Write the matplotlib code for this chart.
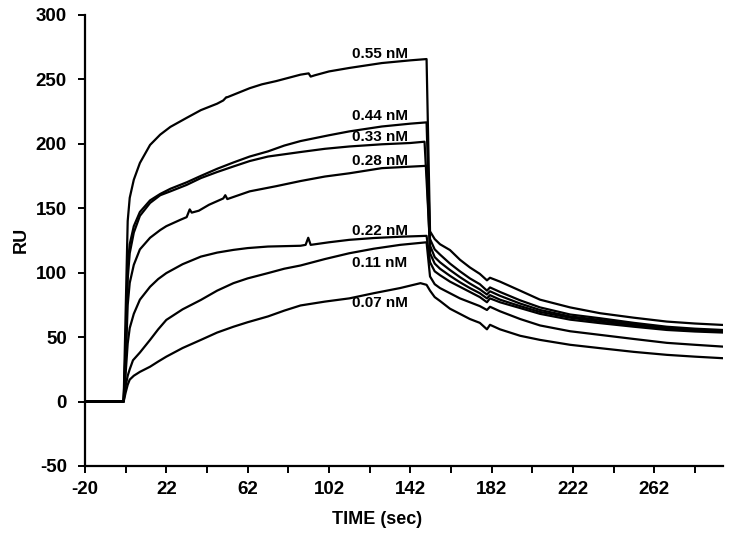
import numpy as np
import matplotlib.pyplot as plt

plt.rcParams['font.family'] = ['Liberation Sans', 'DejaVu Sans']
plt.rcParams['font.weight'] = 'bold'
plt.rcParams['axes.unicode_minus'] = False

# baseline and dissociation phase times (sec, category axis units)
t_base = [-20, -1]
t_dissoc = [149.7, 152, 154.6, 159.5, 164.4, 169.3, 174.2, 177.7, 179.2, 184.1,
            194, 203.8, 218.6, 233.3, 250, 266.2, 280, 293.7]

# association phase, one series per concentration
t_055 = [0, 1, 2, 4, 7, 12, 17, 22, 30, 37, 45, 48, 49.5, 50, 61, 67, 74, 80, 86, 90, 91, 93, 100, 110, 126, 140, 148]
y_055 = [70, 140, 158, 172, 185, 199, 207, 213, 220, 226, 231, 233.5, 236, 236, 243, 246, 248.5, 251, 253.5, 254.5, 252, 253, 256, 258.7, 262.5, 264.6, 265.6]

t_044 = [0, 1, 2, 4, 7, 12, 17, 22, 30, 37, 45, 53, 61, 70, 78, 86, 100, 110, 126, 140, 148]
y_044 = [45, 105, 122, 136, 147, 156, 161, 165, 170, 175, 180.5, 185.4, 190, 194, 198.5, 202, 206.5, 209.5, 213.3, 215.5, 216.5]

t_033 = [0, 1, 2, 4, 7, 12, 17, 22, 30, 37, 45, 53, 61, 70, 86, 98, 110, 126, 140, 147]
y_033 = [40, 95, 115, 131, 144, 154, 160, 163, 168, 173.3, 178, 182.3, 186.5, 190, 193.5, 196, 197.8, 199.5, 200.5, 201.5]

t_028 = [0, 1, 2, 4, 7, 12, 17, 20, 27, 30, 31.5, 32.5, 36, 41, 48, 49, 50, 61, 74, 86, 98, 110, 126, 148]
y_028 = [30, 75, 92, 106, 118, 127, 133, 136, 141, 143, 149, 146.5, 148, 152.6, 157.5, 160, 157, 163, 167, 171, 174.5, 177, 181, 182.8]

t_022 = [0, 1, 2, 4, 7, 12, 16, 20, 28, 37, 45, 53, 60, 70, 86, 88.5, 89.8, 91, 100, 110, 122, 135, 148]
y_022 = [22, 45, 57, 68, 79, 89, 95, 99.6, 106.5, 112.4, 115.5, 117.6, 119, 120.2, 120.8, 121.5, 127, 121.5, 123.5, 125.4, 126.8, 127.8, 128.5]

t_011 = [0, 1, 2, 3.6, 7, 12, 16, 20, 28, 37, 45, 53, 60, 70, 78, 86, 98, 110, 122, 135, 148]
y_011 = [12, 20, 25, 32, 38, 47.8, 56, 63.3, 71.5, 78.8, 86, 91.8, 95.5, 99.6, 103, 105.5, 110.5, 115, 118.5, 121.5, 123.5]

t_007 = [0, 1, 2, 4, 7, 12, 16, 20, 28, 37, 45, 53, 60, 70, 78, 86, 98, 110, 122, 135, 145, 148]
y_007 = [7, 13, 17, 20, 23, 27, 31, 34.8, 41.5, 47.8, 53.5, 58, 61.5, 66, 70.5, 74.5, 77.5, 80, 84, 88, 91.8, 90.5]

# dissociation phase values
d_055 = [132, 126, 122, 117.5, 110, 104, 99, 94, 96, 93, 86, 79, 73, 68.5, 65, 62, 60.5, 59.4]
d_044 = [126, 118, 114, 107, 101, 95.5, 91, 86, 88.5, 85, 78.5, 73, 67.5, 64.6, 61, 58, 56.5, 55.5]
d_033 = [121, 112, 108, 102, 96.5, 91.5, 87, 83, 85.5, 82, 76, 71, 66, 63.3, 60, 57, 55.7, 54.8]
d_028 = [115, 107, 103, 97.5, 92.5, 88, 84, 80, 82.5, 79, 74, 69.5, 65, 62, 59, 56.5, 55, 54]
d_022 = [108, 101, 98, 93, 89, 85, 81, 77, 80, 77, 72.5, 68, 63.5, 60.8, 58, 55.5, 54.3, 53.5]
d_011 = [97, 91, 88, 84, 80, 77, 74, 71, 73.5, 70, 64, 59, 54.5, 51.7, 48.5, 45.5, 44, 42.6]
d_007 = [86, 81, 78, 72, 68, 64, 61, 56, 59.5, 56, 51, 47.8, 44, 41.4, 38.5, 36.2, 34.8, 33.6]

labels = ['0.55 nM', '0.44 nM', '0.33 nM', '0.28 nM', '0.22 nM', '0.11 nM', '0.07 nM']
label_y = [269.8, 221.6, 204.8, 186.2, 132.4, 107.6, 76.5]
label_x = 111.3

xtick_labels = ['-20', '', '22', '', '62', '', '102', '', '142', '', '182', '', '222', '', '262', '']

curves = [(t_055, y_055, d_055), (t_044, y_044, d_044), (t_033, y_033, d_033),
          (t_028, y_028, d_028), (t_022, y_022, d_022), (t_011, y_011, d_011),
          (t_007, y_007, d_007)]

fig = plt.figure(figsize=(7.31, 5.36), dpi=100)
ax = fig.add_axes([85 / 731, 1 - 466 / 536, 638 / 731, 451.3 / 536])

for ta, ya, yd in curves:
    x = t_base + ta + t_dissoc
    y = [0, 0] + ya + yd
    ax.plot(x, y, color='black', lw=1.6, solid_joinstyle='round')

for lab, ly in zip(labels, label_y):
    ax.text(label_x, ly, lab, fontsize=11, fontweight='bold', ha='left', va='center')

ax.set_xlim(-20, 293.8)
ax.set_ylim(-50, 300)
ax.set_xticks(np.arange(-20, 281, 20))
ax.set_xticklabels(xtick_labels)
ax.set_yticks(np.arange(-50, 301, 50))

for s in ['top', 'right']:
    ax.spines[s].set_visible(False)
for s in ['left', 'bottom']:
    ax.spines[s].set_linewidth(1.6)

ax.tick_params(axis='both', direction='out', length=5, width=1.4, labelsize=13.5)
ax.tick_params(axis='y', pad=8)
ax.tick_params(axis='x', pad=6)

ax.set_xlabel('TIME (sec)', fontsize=13, fontweight='bold', va='center')
ax.xaxis.set_label_coords(292 / 638, -53 / 451.3)
ax.set_ylabel('RU', fontsize=13, fontweight='bold', va='center')
ax.yaxis.set_label_coords(-63.5 / 638, 0.5)

plt.savefig('out.png', dpi=100)
